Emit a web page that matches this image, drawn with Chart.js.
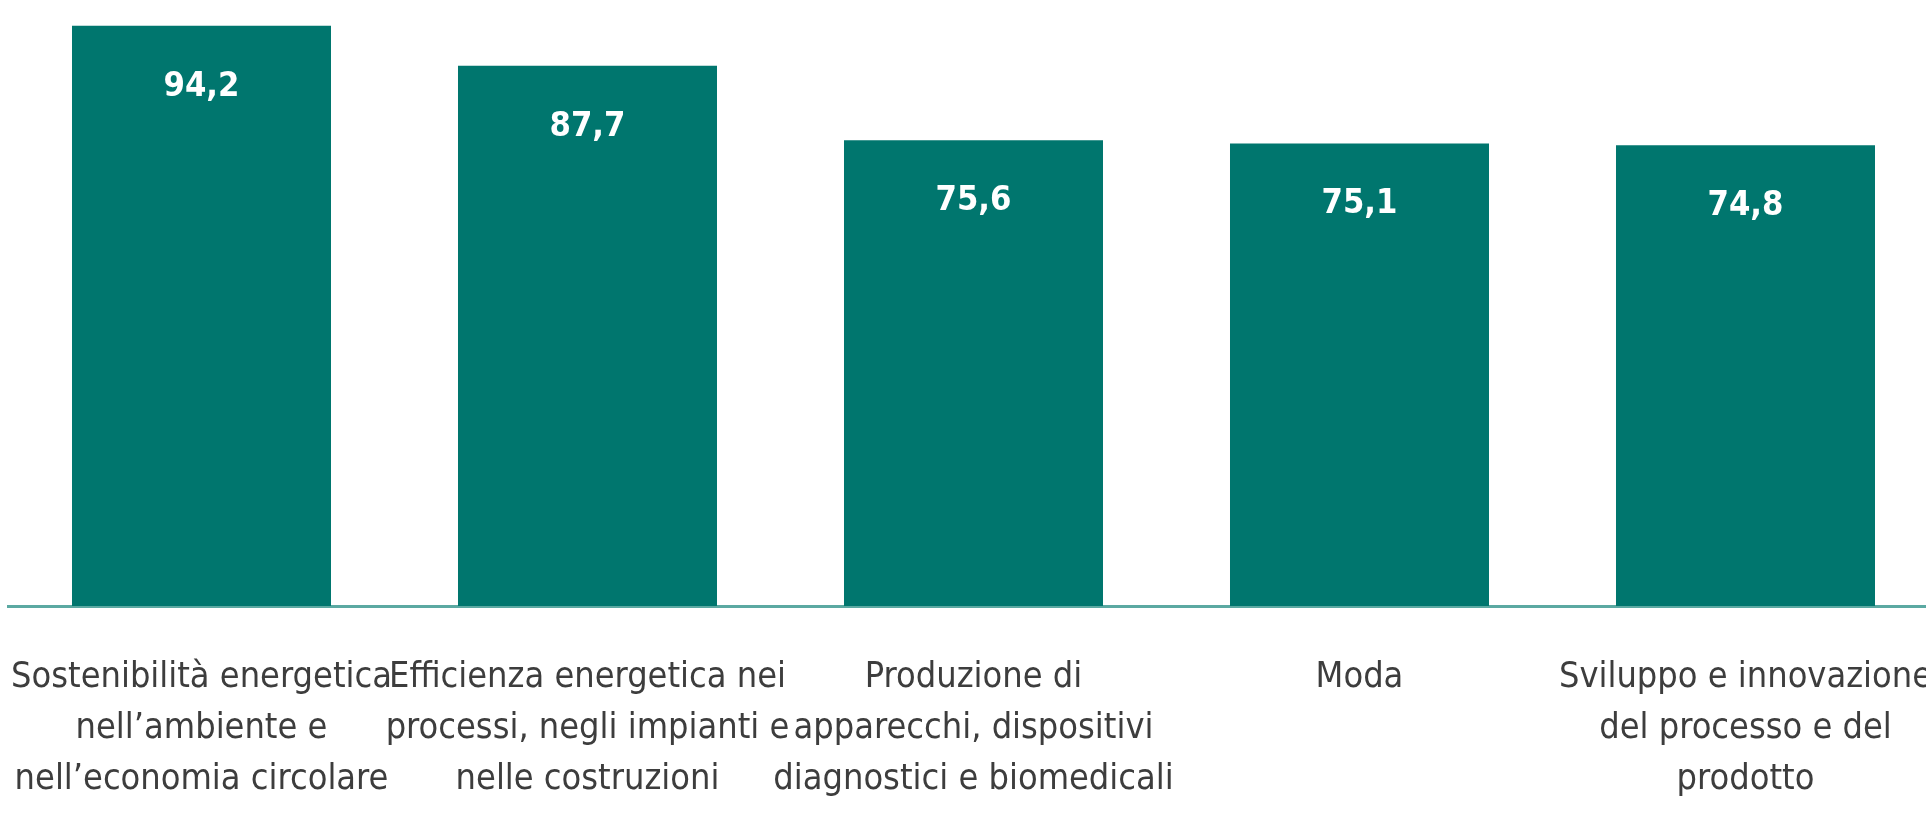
<!DOCTYPE html>
<html>
<head>
<meta charset="utf-8">
<script src="https://cdn.jsdelivr.net/npm/chart.js@4.4.1/dist/chart.umd.min.js"></script>
<style>
  html, body { margin: 0; padding: 0; background: #ffffff; overflow: hidden; }
  body { width: 1926px; height: 829px; position: relative; }
  #wrap { position: absolute; left: 0; top: -10px; width: 1940px; height: 839px; }
</style>
</head>
<body>
<div id="wrap"><canvas id="myChart"></canvas></div>
<script>
const categories = [
  ['Sostenibilità energetica', 'nell’ambiente e', 'nell’economia circolare'],
  ['Efficienza energetica nei', 'processi, negli impianti e', 'nelle costruzioni'],
  ['Produzione di', 'apparecchi, dispositivi', 'diagnostici e biomedicali'],
  ['Moda'],
  ['Sviluppo e innovazione', 'del processo e del', 'prodotto']
];
const values = [94.2, 87.7, 75.6, 75.1, 74.8];

// pick the narrowest sans that is installed (reference uses a Calibri-like face)
const measureCtx = document.createElement('canvas').getContext('2d');
function textWidth(font, txt) {
  measureCtx.font = font;
  return measureCtx.measureText(txt).width;
}
function isInstalled(fam) {
  const probe = 'Sostenibilità energetica 0123 mmwwii';
  return textWidth('40px "' + fam + '", monospace', probe) !== textWidth('40px monospace', probe) ||
         textWidth('40px "' + fam + '", serif', probe) !== textWidth('40px serif', probe);
}
const candidates = ['Liberation Sans Narrow', 'DejaVu Sans Condensed', 'Roboto Condensed', 'Open Sans Condensed', 'Lato'];
const family = candidates.find(isInstalled) || 'sans-serif';

// size the tick text so the widest line takes the same room as in the reference
const tickSize = Math.min(38, 381 * 100 / textWidth('100px "' + family + '"', 'Sostenibilità energetica'));
const valueSize = Math.min(37, 76 * 100 / textWidth('bold 100px "' + family + '"', '94,2'));

// white numbers inside the top of each bar
const valueLabels = {
  id: 'valueLabels',
  afterDatasetsDraw(chart) {
    const ctx = chart.ctx;
    const meta = chart.getDatasetMeta(0);
    ctx.save();
    ctx.fillStyle = '#ffffff';
    ctx.font = 'bold ' + valueSize + 'px "' + family + '"';
    ctx.textAlign = 'center';
    ctx.textBaseline = 'middle';
    meta.data.forEach((bar, i) => {
      ctx.fillText(values[i].toFixed(1).replace('.', ','), bar.x, bar.y + 61);
    });
    ctx.restore();
  }
};

const ctx = document.getElementById('myChart').getContext('2d');
const myChart = new Chart(ctx, {
  type: 'bar',
  data: {
    labels: categories,
    datasets: [{
      data: values,
      backgroundColor: '#00766e',
      borderWidth: 0,
      barPercentage: 0.671,
      categoryPercentage: 1
    }]
  },
  options: {
    responsive: true,
    maintainAspectRatio: false,
    animation: false,
    layout: { padding: { left: 8.5, right: 1.5, top: 0, bottom: 0 } },
    plugins: {
      legend: { display: false },
      tooltip: { enabled: false }
    },
    scales: {
      x: {
        grid: { display: false, drawTicks: false },
        border: { display: true, color: '#5ba9a2', width: 3 },
        ticks: {
          autoSkip: false,
          maxRotation: 0,
          padding: 46,
          color: '#3d3d3d',
          font: { family: family, size: tickSize, lineHeight: 51 / tickSize }
        },
        afterFit(scale) {
          scale.height = 223;
          // let the edge labels run off the chart like in the reference
          scale.paddingLeft = 0;
          scale.paddingRight = 0;
        }
      },
      y: {
        display: false,
        min: 0,
        max: 100
      }
    }
  },
  plugins: [valueLabels]
});
</script>
</body>
</html>
